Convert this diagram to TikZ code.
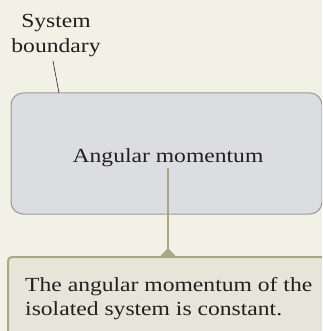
\documentclass[tikz,border=0pt]{standalone}
\usepackage{fontspec}
\setmainfont{Liberation Serif}[FakeStretch=1.18]
\definecolor{bg}{HTML}{F2F1E6}
\definecolor{boxfill}{HTML}{DCDDE0}
\definecolor{boxline}{HTML}{9A9A9C}
\definecolor{olive}{HTML}{A8A787}
\definecolor{notefill}{HTML}{E6E5D9}
\definecolor{ink}{HTML}{231F20}
\begin{document}
\begin{tikzpicture}[x=1pt,y=-1pt,
  sysbox/.style={draw=boxline,line width=1pt,fill=boxfill,rounded corners=12pt,minimum width=311pt,minimum height=121pt,inner sep=0pt},
  notebox/.style={fill=notefill,minimum width=330pt,minimum height=90pt,anchor=north west,inner sep=0pt},
  lbl/.style={text=ink,font=\fontsize{20}{25}\selectfont},
  conn/.style={draw=olive,line width=2pt}]
\useasboundingbox (0,0) rectangle (322,331);
\clip (0,0) rectangle (322,331);
\fill[bg] (0,0) rectangle (322,331);
\node[sysbox] (mom) at (166.5,153.5) {};
\node[lbl,anchor=base,inner sep=0pt] (momtext) at (168,162) {Angular momentum};
\node[lbl,align=center,anchor=base,inner sep=0pt] (sys) at (56,53) {System\\boundary};
\coordinate (systip) at (59,93);
\draw[ink,line width=0.6pt] (53,61) -- (systip);
\node[notebox] (note) at (8,257) {};
\draw[olive,line width=2pt,rounded corners=4pt] (note.south west) -- (note.north west) -- (note.north east);
\node[lbl,align=left,anchor=base west,inner sep=0pt,font=\fontsize{20}{24.5}\selectfont] (notetext) at (25,315.5) {The angular momentum of the\\isolated system is constant.};
\coordinate (start) at (168,168);
\coordinate (tip) at (168,257);
\draw[conn] (start) -- (tip);
\fill[olive] (159,257.5) -- (168,248) -- (177,257.5) -- cycle;
\end{tikzpicture}
\end{document}
